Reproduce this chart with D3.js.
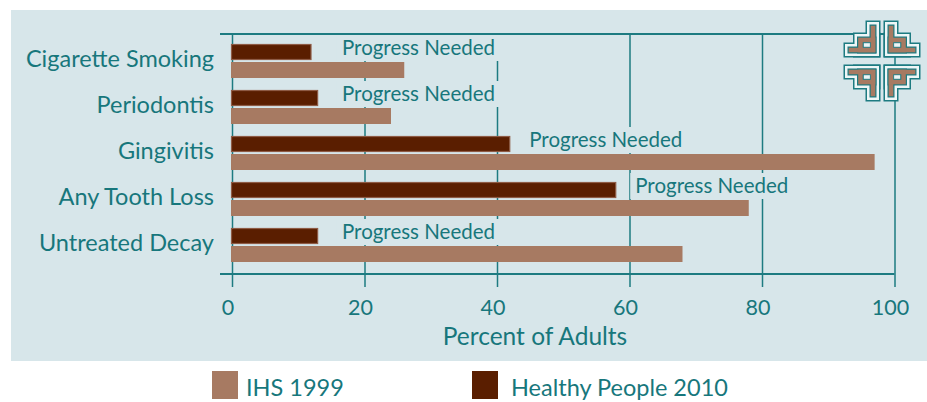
<!DOCTYPE html>
<html>
<head>
<meta charset="utf-8">
<script src="https://cdn.jsdelivr.net/npm/d3@7"></script>
<style>
  html, body { margin: 0; padding: 0; background: #ffffff; }
  svg { display: block; }
  text { font-family: Lato, "Open Sans", sans-serif; fill: #17777c; }
</style>
</head>
<body>
<svg id="chart" width="927" height="402"></svg>
<script>
// Oral health indicators: IHS 1999 survey vs. Healthy People 2010 targets (percent of adults)
const categories = ["Cigarette Smoking", "Periodontis", "Gingivitis", "Any Tooth Loss", "Untreated Decay"];
const ihs1999 = [26, 24, 97, 78, 68];
const hp2010 = [12, 13, 42, 58, 13];
const noteText = "Progress Needed";
const xTicks = [0, 20, 40, 60, 80, 100];
const xTitle = "Percent of Adults";
const seriesNames = ["IHS 1999", "Healthy People 2010"];

const teal = "#1d7b81";
const panelFill = "#d7e6ea";
const ihsFill = "#a77a62";
const hpFill = "#5a1e00";
const hpEdge = "#8e5b45";

const svg = d3.select("#chart");

// background panel
svg.append("rect")
  .attr("x", 11).attr("y", 10).attr("width", 916).attr("height", 351)
  .attr("fill", panelFill);

const plotTop = 34, axisY = 274;
const x = d3.scaleLinear().domain([0, 100]).range([232, 894.5]);
const y = d3.scaleBand().domain(categories).range([38, 268])
  .paddingInner(12 / 46).paddingOuter(6 / 46);
const sub = d3.scaleBand().domain(["hp", "ihs"]).range([0, y.bandwidth()]).paddingInner(1 / 9);

// vertical grid lines, running from the top rule down past the axis as ticks
const grid = svg.append("g")
  .attr("transform", `translate(0,${plotTop})`)
  .call(d3.axisBottom(x).tickValues(xTicks).tickSize(axisY - plotTop + 13).tickFormat(""));
grid.select(".domain").remove();
grid.selectAll(".tick line").attr("stroke", teal).attr("stroke-width", 1.5);

// top rule and axis baseline
svg.append("line").attr("x1", 220).attr("x2", x(100)).attr("y1", plotTop).attr("y2", plotTop)
  .attr("stroke", teal).attr("stroke-width", 2);
svg.append("line").attr("x1", 220).attr("x2", x(100)).attr("y1", axisY).attr("y2", axisY)
  .attr("stroke", teal).attr("stroke-width", 2);

const rows = categories.map((c, i) => ({ cat: c, ihs: ihs1999[i], hp: hp2010[i] }));
const noteX = d => Math.max(x(d.hp) + 19, x(16.6));

const row = svg.append("g").selectAll("g").data(rows).join("g")
  .attr("transform", d => `translate(0,${y(d.cat)})`);

// note text first so its width can size the cut-out behind it
const notes = row.append("text")
  .attr("x", noteX)
  .attr("y", sub("hp") + 11)
  .attr("font-size", 20.5)
  .text(noteText);

notes.each(function (d) {
  const w = this.getComputedTextLength();
  d3.select(this.parentNode).insert("rect", "text")
    .attr("x", noteX(d) - 5)
    .attr("y", sub("hp") - 9)
    .attr("width", w + 10)
    .attr("height", sub.bandwidth() + 10)
    .attr("fill", panelFill);
});

row.insert("rect", "text")
  .attr("x", x(0) - 1)
  .attr("y", sub("ihs"))
  .attr("width", d => x(d.ihs) - x(0) + 1)
  .attr("height", sub.bandwidth())
  .attr("fill", ihsFill);

row.insert("rect", "text")
  .attr("x", x(0) - 0.5)
  .attr("y", sub("hp") + 0.5)
  .attr("width", d => x(d.hp) - x(0))
  .attr("height", sub.bandwidth() - 1)
  .attr("fill", hpFill)
  .attr("stroke", hpEdge)
  .attr("stroke-width", 1.2);

// category labels
svg.append("g").selectAll("text").data(rows).join("text")
  .attr("x", 214)
  .attr("y", d => y(d.cat) + y.bandwidth() / 2 + 5.5)
  .attr("text-anchor", "end")
  .attr("font-size", 23.5)
  .text(d => d.cat);

// tick labels
svg.append("g").selectAll("text").data(xTicks).join("text")
  .attr("x", d => x(d) - 4)
  .attr("y", 315)
  .attr("text-anchor", "middle")
  .attr("font-size", 21.5)
  .text(d => d);

svg.append("text")
  .attr("x", 535).attr("y", 345)
  .attr("text-anchor", "middle")
  .attr("font-size", 24.5)
  .text(xTitle);

// corner emblem: four mirrored key motifs
const emblem = svg.append("g").attr("transform", "translate(882,61)");
[[1, 1], [-1, 1], [1, -1], [-1, -1]].forEach(([sx, sy]) => {
  const m = emblem.append("g").attr("transform", `scale(${sx},${sy})`);
  const keyPath = "M-31,-11 H-9 V-33";
  const layers = [[teal, 15], ["#eef6f6", 12], [teal, 7], [ihsFill, 4.6]];
  layers.forEach(([col, w]) => {
    m.append("path").attr("d", keyPath).attr("fill", "none")
      .attr("stroke", col).attr("stroke-width", w)
      .attr("stroke-linecap", "square").attr("stroke-linejoin", "miter");
    m.append("rect").attr("x", -21.5).attr("y", -21).attr("width", 12.5).attr("height", 10)
      .attr("fill", "none").attr("stroke", col).attr("stroke-width", w);
  });
  m.append("rect").attr("x", -18.7).attr("y", -18.2).attr("width", 7).attr("height", 4.4)
    .attr("fill", "#eef6f6").attr("stroke", teal).attr("stroke-width", 0.8);
});

// legend
const legend = svg.append("g");
const legendItems = [
  { name: seriesNames[0], fill: ihsFill, sx: 212, tx: 246 },
  { name: seriesNames[1], fill: hpFill, sx: 472, tx: 511 }
];
legend.selectAll("rect").data(legendItems).join("rect")
  .attr("x", d => d.sx).attr("y", 371).attr("width", 26).attr("height", 28)
  .attr("fill", d => d.fill);
legend.selectAll("text").data(legendItems).join("text")
  .attr("x", d => d.tx).attr("y", 396)
  .attr("font-size", 23.5)
  .text(d => d.name);
</script>
</body>
</html>
